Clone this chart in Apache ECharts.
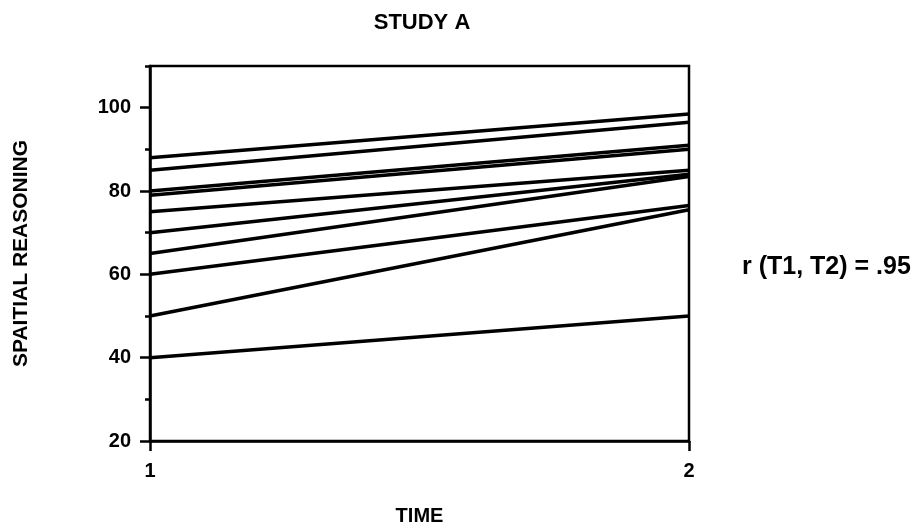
<!DOCTYPE html>
<html>
<head>
<meta charset="utf-8">
<script src="https://cdn.jsdelivr.net/npm/echarts@6/dist/echarts.min.js"></script>
<style>
html,body{margin:0;padding:0;background:#fff;}
#chart{width:917px;height:531px;}
</style>
</head>
<body>
<div id="chart"></div>
<script>
// Data
var timePoints = [1, 2];
var scoreT1 = [88, 85, 80, 79, 75, 70, 65, 60, 50, 40];
var scoreT2 = [98.5, 96.5, 91, 90, 85, 84, 83.5, 76.5, 75.5, 50];
var yLabelValues = [20, 40, 60, 80, 100];
var xLabelValues = [1, 2];
var titleText = 'STUDY A';
var annotationText = 'r (T1, T2) = .95';

var FONT = '"Liberation Sans", Arial, Helvetica, sans-serif';
var chart = echarts.init(document.getElementById('chart'), null, {renderer: 'canvas'});

var series = scoreT1.map(function (v, i) {
  return {
    type: 'line',
    xAxisIndex: 0,
    yAxisIndex: 0,
    data: [[timePoints[0], v], [timePoints[1], scoreT2[i]]],
    symbol: 'none',
    silent: true,
    animation: false,
    lineStyle: {color: '#000', width: 3.5}
  };
});

chart.setOption({
  animation: false,
  backgroundColor: '#fff',
  title: {
    text: titleText,
    left: 417,
    top: 7,
    textAlign: 'center',
    textStyle: {fontFamily: FONT, fontSize: 22, fontWeight: 'bold', color: '#000'}
  },
  grid: {
    left: 150, right: 228, top: 66, bottom: 88,
    show: true, borderColor: '#000', borderWidth: 2.5, backgroundColor: 'transparent'
  },
  xAxis: {
    type: 'value',
    min: 1, max: 2, interval: 1,
    name: 'TIME',
    nameLocation: 'middle',
    nameGap: 65,
    nameTextStyle: {fontFamily: FONT, fontSize: 20, fontWeight: 'bold', color: '#000'},
    axisLine: {show: true, lineStyle: {color: '#000', width: 2.5}},
    axisTick: {show: true, length: 10, lineStyle: {color: '#000', width: 2.5}, customValues: xLabelValues},
    axisLabel: {margin: 20, fontFamily: FONT, fontSize: 20, fontWeight: 'bold', color: '#000', customValues: xLabelValues},
    splitLine: {show: false}
  },
  yAxis: [{
    type: 'value',
    min: 20, max: 110, interval: 10,
    name: 'SPAITIAL REASONING',
    nameLocation: 'middle',
    nameGap: 118,
    nameRotate: 90,
    nameTextStyle: {fontFamily: FONT, fontSize: 21, fontWeight: 'bold', color: '#000'},
    axisLine: {show: true, lineStyle: {color: '#000', width: 2.5}},
    axisTick: {show: true, length: 5, lineStyle: {color: '#000', width: 2.5}},
    axisLabel: {margin: 19, fontFamily: FONT, fontSize: 20, fontWeight: 'bold', color: '#000', customValues: yLabelValues},
    splitLine: {show: false}
  }, {
    type: 'value',
    position: 'left',
    min: 20, max: 110, interval: 10,
    axisLine: {show: false},
    axisTick: {show: true, length: 10, lineStyle: {color: '#000', width: 2.5}, customValues: yLabelValues},
    axisLabel: {show: false},
    splitLine: {show: false}
  }],
  graphic: [{
    type: 'text',
    left: 742,
    top: 255,
    style: {
      text: annotationText,
      fill: '#000',
      font: 'bold 25px ' + FONT
    }
  }],
  series: series
});
</script>
</body>
</html>
